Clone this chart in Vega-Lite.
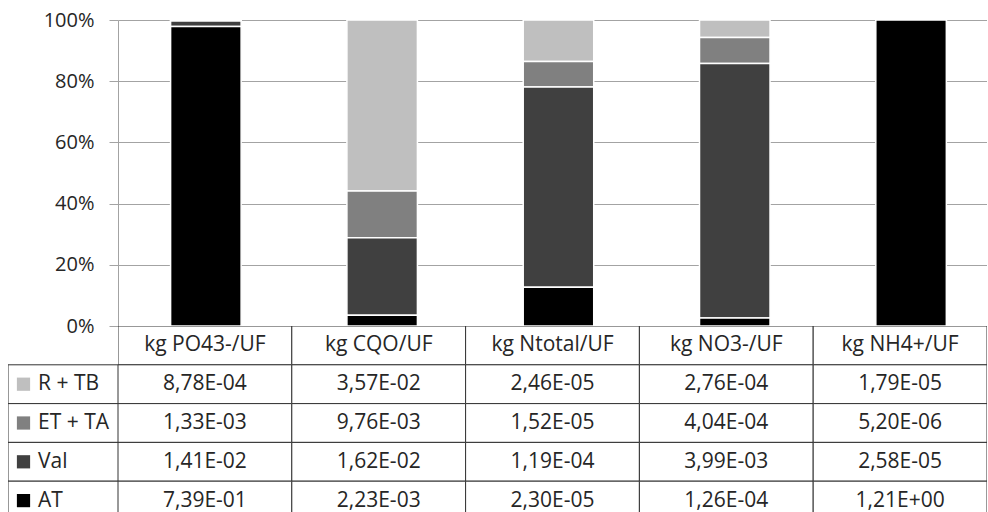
{
  "$schema": "https://vega.github.io/schema/vega-lite/v6.json",
  "padding": {"top": 10, "left": 8, "right": 0, "bottom": 0},
  "background": "white",
  "datasets": {
    "d": [
      {"category": "kg PO43-/UF", "series": "R + TB", "value": 0.000878},
      {"category": "kg PO43-/UF", "series": "ET + TA", "value": 0.00133},
      {"category": "kg PO43-/UF", "series": "Val", "value": 0.0141},
      {"category": "kg PO43-/UF", "series": "AT", "value": 0.739},
      {"category": "kg CQO/UF", "series": "R + TB", "value": 0.0357},
      {"category": "kg CQO/UF", "series": "ET + TA", "value": 0.00976},
      {"category": "kg CQO/UF", "series": "Val", "value": 0.0162},
      {"category": "kg CQO/UF", "series": "AT", "value": 0.00223},
      {"category": "kg Ntotal/UF", "series": "R + TB", "value": 0.0000246},
      {"category": "kg Ntotal/UF", "series": "ET + TA", "value": 0.0000152},
      {"category": "kg Ntotal/UF", "series": "Val", "value": 0.000119},
      {"category": "kg Ntotal/UF", "series": "AT", "value": 0.000023},
      {"category": "kg NO3-/UF", "series": "R + TB", "value": 0.000276},
      {"category": "kg NO3-/UF", "series": "ET + TA", "value": 0.000404},
      {"category": "kg NO3-/UF", "series": "Val", "value": 0.00399},
      {"category": "kg NO3-/UF", "series": "AT", "value": 0.000126},
      {"category": "kg NH4+/UF", "series": "R + TB", "value": 0.0000179},
      {"category": "kg NH4+/UF", "series": "ET + TA", "value": 0.0000052},
      {"category": "kg NH4+/UF", "series": "Val", "value": 0.0000258},
      {"category": "kg NH4+/UF", "series": "AT", "value": 1.21}
    ],
    "cats": [
      {"category": "kg PO43-/UF"},
      {"category": "kg CQO/UF"},
      {"category": "kg Ntotal/UF"},
      {"category": "kg NO3-/UF"},
      {"category": "kg NH4+/UF"}
    ],
    "series": [
      {"series": "R + TB"},
      {"series": "ET + TA"},
      {"series": "Val"},
      {"series": "AT"}
    ]
  },
  "columns": 2,
  "spacing": 0,
  "bounds": "flush",
  "resolve": {"scale": {"x": "independent", "y": "independent", "color": "independent"}},
  "concat": [
    {
      "width": 110,
      "height": 306,
      "data": {"values": [{}]},
      "mark": {"type": "point", "opacity": 0},
      "encoding": {}
    },
    {
      "width": 869,
      "height": 306,
      "data": {"name": "d"},
      "transform": [
        {"window": [{"op": "row_number", "as": "rank"}], "groupby": ["category"]}
      ],
      "mark": {"type": "bar", "stroke": "white", "strokeWidth": 1.5},
      "encoding": {
        "x": {
          "field": "category",
          "type": "nominal",
          "scale": {
            "domain": ["kg PO43-/UF", "kg CQO/UF", "kg Ntotal/UF", "kg NO3-/UF", "kg NH4+/UF"],
            "paddingInner": 0.6,
            "paddingOuter": 0.2645,
            "align": 0.564
          },
          "axis": null
        },
        "y": {
          "field": "value",
          "type": "quantitative",
          "stack": "normalize",
          "scale": {"domain": [0, 1]},
          "axis": {
            "values": [0, 0.2, 0.4, 0.6, 0.8, 1],
            "format": ".0%",
            "title": null,
            "grid": true,
            "gridColor": "#a3a3a3",
            "gridWidth": 1,
            "domain": true,
            "domainColor": "#a3a3a3",
            "ticks": true,
            "tickColor": "#a3a3a3",
            "tickSize": 9,
            "labelPadding": 15,
            "labelFont": "Open Sans",
            "labelFontSize": 20,
            "labelColor": "#262626"
          }
        },
        "order": {"field": "rank", "sort": "descending"},
        "color": {
          "field": "series",
          "type": "nominal",
          "scale": {
            "domain": ["AT", "Val", "ET + TA", "R + TB"],
            "range": ["#000000", "#404040", "#808080", "#bfbfbf"]
          },
          "legend": null
        }
      }
    },
    {
      "width": 110,
      "height": 186,
      "data": {"name": "series"},
      "layer": [
        {
          "mark": {"type": "rect", "fill": "white", "stroke": "#333333", "strokeWidth": 1, "clip": true},
          "encoding": {
            "y": {
              "field": "series",
              "type": "nominal",
              "scale": {
                "type": "band",
                "domain": ["header", "R + TB", "ET + TA", "Val", "AT"],
                "range": [0, 194],
                "paddingInner": 0,
                "paddingOuter": 0
              },
              "axis": null
            }
          }
        },
        {
          "mark": {"type": "point", "shape": "square", "filled": true, "size": 175, "opacity": 1, "xOffset": -39.5, "clip": true},
          "encoding": {
            "y": {"field": "series", "type": "nominal", "axis": null},
            "color": {
              "field": "series",
              "type": "nominal",
              "scale": {
                "domain": ["AT", "Val", "ET + TA", "R + TB"],
                "range": ["#000000", "#404040", "#808080", "#bfbfbf"]
              },
              "legend": null
            }
          }
        },
        {
          "mark": {"type": "text", "align": "left", "baseline": "middle", "dx": -25, "font": "Open Sans", "fontSize": 21, "color": "#262626", "clip": true},
          "encoding": {
            "y": {"field": "series", "type": "nominal", "axis": null},
            "text": {"field": "series"}
          }
        }
      ]
    },
    {
      "width": 869,
      "height": 186,
      "layer": [
        {
          "data": {"name": "cats"},
          "mark": {"type": "rect", "fill": "white", "stroke": "#333333", "strokeWidth": 1, "clip": true},
          "encoding": {
            "x": {
              "field": "category",
              "type": "nominal",
              "scale": {
                "type": "band",
                "domain": ["kg PO43-/UF", "kg CQO/UF", "kg Ntotal/UF", "kg NO3-/UF", "kg NH4+/UF"],
                "paddingInner": 0,
                "paddingOuter": 0
              },
              "axis": null
            },
            "y": {
              "datum": "header",
              "type": "nominal",
              "scale": {
                "type": "band",
                "domain": ["header", "R + TB", "ET + TA", "Val", "AT"],
                "range": [0, 194],
                "paddingInner": 0,
                "paddingOuter": 0
              },
              "axis": null
            }
          }
        },
        {
          "data": {"name": "d"},
          "mark": {"type": "rect", "fill": "white", "stroke": "#333333", "strokeWidth": 1, "clip": true},
          "encoding": {
            "x": {"field": "category", "type": "nominal", "axis": null},
            "y": {"field": "series", "type": "nominal", "axis": null}
          }
        },
        {
          "data": {"name": "cats"},
          "mark": {"type": "text", "baseline": "middle", "font": "Open Sans", "fontSize": 21, "color": "#262626", "clip": true},
          "encoding": {
            "x": {"field": "category", "type": "nominal", "axis": null},
            "y": {"datum": "header", "type": "nominal", "axis": null},
            "text": {"field": "category"}
          }
        },
        {
          "data": {"name": "d"},
          "mark": {
            "type": "text",
            "baseline": "middle",
            "font": "Open Sans",
            "fontSize": 21,
            "color": "#262626",
            "clip": true,
            "text": {"expr": "replace(replace(format(datum.value, '.2e'), '.', ','), regexp('e([+-])([0-9])$'), 'E$10$2')"}
          },
          "encoding": {
            "x": {"field": "category", "type": "nominal", "axis": null},
            "y": {"field": "series", "type": "nominal", "axis": null}
          }
        }
      ]
    }
  ],
  "config": {
    "view": {"stroke": null},
    "font": "Open Sans"
  }
}
